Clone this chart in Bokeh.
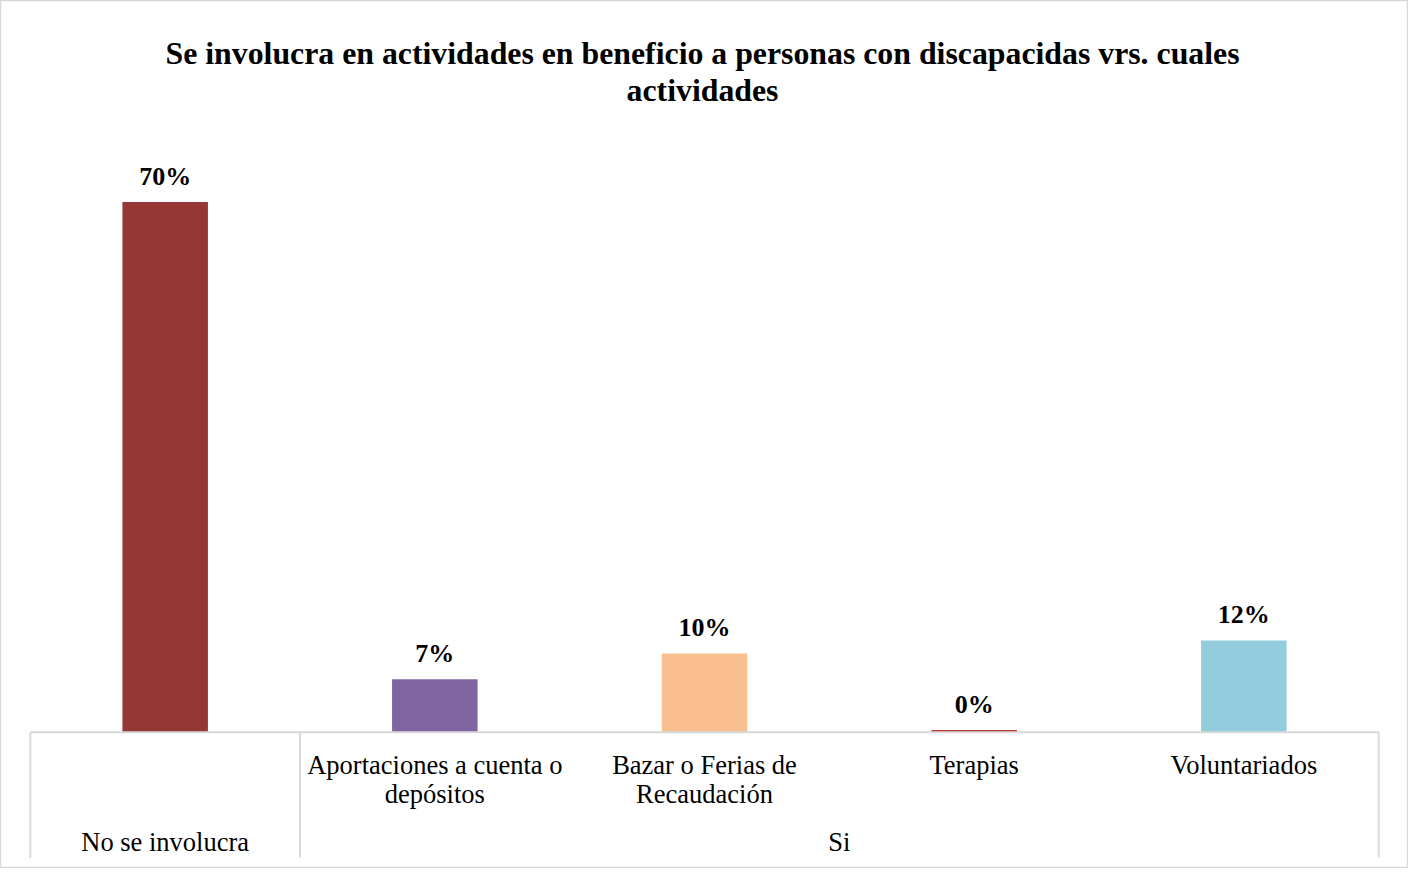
from bokeh.plotting import figure
from bokeh.models import ColumnDataSource, Range1d
from bokeh.core.properties import value
from bokeh.embed import file_html
from bokeh.resources import INLINE

# ---- data ----
title_lines = ["Se involucra en actividades en beneficio a personas con discapacidas vrs. cuales",
               "actividades"]
groups = ["No se involucra", "Si", "Si", "Si", "Si"]
categories = ["", "Aportaciones a cuenta o\ndepósitos", "Bazar o Ferias de\nRecaudación",
              "Terapias", "Voluntariados"]
values = [70.0, 7.0, 10.4, 0.3, 12.1]
value_labels = ["70%", "7%", "10%", "0%", "12%"]
colors = ["#953735", "#8064A2", "#FAC090", "#B83A37", "#93CDDD"]

# ---- layout ----
W, H = 1408, 868
# reference chart border spans (4,4)-(1420,883); map it onto the canvas
SX = W / 1416.0
SY = H / 879.0


def cx(ax):
    return (ax - 4) * SX


def cy(ay):
    return (ay - 4) * SY


n = len(categories)
XU = (cx(1390) - cx(34)) / n          # px per category
YU = (cy(745) - cy(208)) / 70.0       # px per percent
FONT = value("Liberation Serif")
GRID = "#d9d9d9"


def xd(ax):
    return (cx(ax) - cx(34)) / XU


def yd(ay):
    return (cy(745) - cy(ay)) / YU


p = figure(width=W, height=H, output_backend="svg", toolbar_location=None,
           min_border=0, min_border_left=0, min_border_right=0,
           min_border_top=0, min_border_bottom=0)
p.x_range = Range1d(-cx(34) / XU, (W - cx(34)) / XU)
p.y_range = Range1d(-(H - cy(745)) / YU, cy(745) / YU)
p.axis.visible = False
p.xgrid.visible = False
p.ygrid.visible = False
p.outline_line_color = GRID
p.outline_line_width = 1.5
p.background_fill_color = "white"
p.border_fill_color = "white"

xs = [i + 0.5 for i in range(n)]

# bars
src = ColumnDataSource(dict(x=xs, top=values, color=colors, lab=value_labels,
                            ly=[v + 26 * SY / YU for v in values]))
p.vbar(x="x", top="top", bottom=0, width=86 * SX / XU, fill_color="color",
       line_color=None, source=src)
p.text(x="x", y="ly", text="lab", source=src, text_font=FONT, text_font_style="bold",
       text_font_size="26px", text_align="center", text_baseline="middle", text_color="black")

# axis line & group dividers
p.segment(x0=[0], y0=[0], x1=[n], y1=[0], line_color=GRID, line_width=2)
bounds = [0]
for i in range(1, n):
    if groups[i] != groups[i - 1]:
        bounds.append(i)
bounds.append(n)
p.segment(x0=bounds, y0=[0] * len(bounds), x1=bounds, y1=[yd(872)] * len(bounds),
          line_color=GRID, line_width=2)

# category labels
lx, ly, lt = [], [], []
for i, c in enumerate(categories):
    for j, line in enumerate(c.split("\n")):
        if line:
            lx.append(xs[i])
            ly.append(yd(778 + 30 * j))
            lt.append(line)
p.text(x=lx, y=ly, text=lt, text_font=FONT, text_font_size="26.5px",
       text_align="center", text_baseline="middle", text_color="black")

# group labels
gx, gt = [], []
for a, b in zip(bounds[:-1], bounds[1:]):
    gx.append((a + b) / 2)
    gt.append(groups[a])
p.text(x=gx, y=[yd(856)] * len(gx), text=gt, text_font=FONT, text_font_size="26.5px",
       text_align="center", text_baseline="middle", text_color="black")

# title
p.text(x=[xd(710)] * len(title_lines), y=[yd(58), yd(95)], text=title_lines,
       text_font=FONT, text_font_style="bold", text_font_size="31.8px",
       text_align="center", text_baseline="middle", text_color="black")

open("out.html", "w").write(file_html(p, INLINE))
